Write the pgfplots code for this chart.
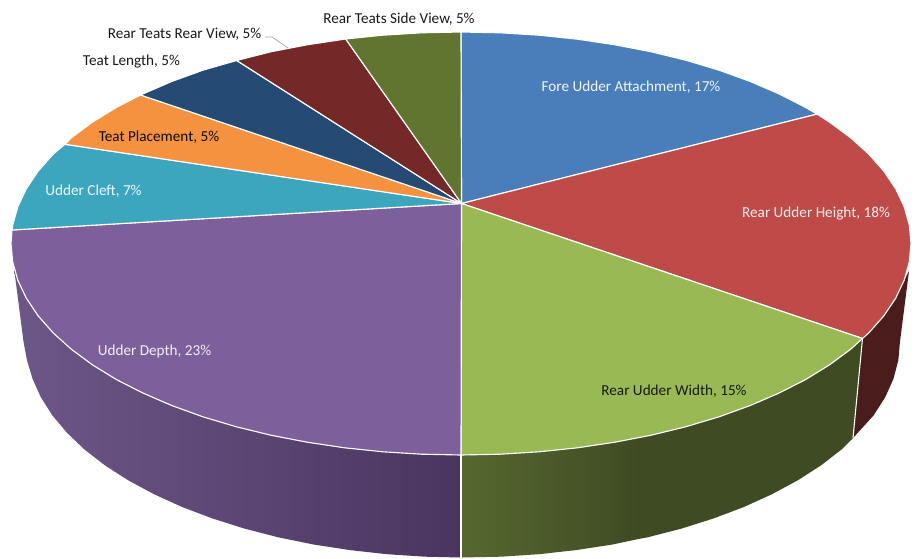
\documentclass[border=0pt]{standalone}
\usepackage{pgfplots}
\pgfplotsset{compat=1.18}
\usepackage{fontspec}
\setmainfont{Carlito}
\definecolor{cblue}{HTML}{4A7EBB}
\definecolor{cred}{HTML}{BE4B48}
\definecolor{cgreen}{HTML}{98B954}
\definecolor{cpurple}{HTML}{7D5F9C}
\definecolor{cteal}{HTML}{3CA6BF}
\definecolor{corange}{HTML}{F59240}
\definecolor{cnavy}{HTML}{254A73}
\definecolor{cmaroon}{HTML}{742828}
\definecolor{colive}{HTML}{5F7530}
\definecolor{sideA}{HTML}{6D5789}
\definecolor{sideB}{HTML}{4A3560}
\definecolor{sideC}{HTML}{566830}
\definecolor{sideD}{HTML}{3F4B23}
\definecolor{sideE}{HTML}{3F4B23}
\definecolor{sideF}{HTML}{4A1C1C}
\tikzset{
  ptop/.style={draw=white, line width=0.85pt, line join=round},
  lab/.style={font=\fontsize{11.4}{13}\selectfont, inner sep=0pt, anchor=center}
}
\begin{document}
\begin{tikzpicture}
\begin{axis}[
  scale only axis, width=687pt, height=418.5pt,
  xmin=0, xmax=916, ymin=0, ymax=558, y dir=reverse,
  hide axis, clip=false
]
% invisible corners keep the page at the full picture
\addplot[draw=none, forget plot] coordinates {(0,0) (916,558)};
% side walls
\addplot[shade, left color=sideA, right color=sideB, draw=none] coordinates {
 (461,455)(421.8,454.2)(382.9,451.8)(344.5,447.8)(307.1,442.2)(270.8,435.2)(236,426.7)(202.9,416.8)(171.7,405.5)(142.8,393)(116.3,379.5)(92.4,364.8)(71.3,349.2)(53.2,332.9)(38.1,315.8)(26.3,298.2)(17.8,280.2)(14,268)
 (23.5,341.5)(27,360.3)(32.6,379)(40.9,397.4)(52.4,415.4)(67,432.8)(84.5,449.5)(105,465.4)(128.2,480.3)(154,494.2)(182.1,507)(212.3,518.4)(244.5,528.6)(278.3,537.3)(313.5,544.5)(349.9,550.1)(387.1,554.2)(425,556.7)(461,557.5)} -- cycle;
\addplot[shade, left color=sideC, right color=sideD, draw=none] coordinates {
 (461,455)(500.2,454.2)(539.1,451.8)(577.5,447.8)(614.9,442.2)(640,437.5)
 (640,538.7)(612.5,544.5)(576.1,550.1)(538.9,554.2)(501,556.7)(461,557.5)} -- cycle;
\addplot[fill=sideE, draw=none] coordinates {
 (639.5,437.7)(651.2,435.2)(686,426.7)(719.1,416.8)(750.3,405.5)(779.2,393)(805.7,379.5)(829.6,364.8)(850.7,349.2)(862.5,338.5)
 (853,438)(841.5,449.5)(821,465.4)(797.8,480.3)(772,494.2)(743.9,507)(713.7,518.4)(681.5,528.6)(647.7,537.3)(639.5,538.8)} -- cycle;
\addplot[fill=sideF, draw=none] coordinates {
 (862.5,338.5)(868.8,332.9)(883.9,315.8)(895.7,298.2)(904.2,280.2)(909,271)
 (900,341.5)(898.3,360.3)(893.4,379)(885.1,397.4)(873.6,415.4)(853,438)} -- cycle;
\addplot[draw=white, line width=0.8pt] coordinates {(461,455)(461,558)};
\addplot[draw=white, line width=0.8pt] coordinates {(862.5,338.5)(853,438)};
% top face
\addplot[fill=cblue, ptop] coordinates {(461.5,203.5)(461,32)(500.2,32.8)(539.1,35.2)(577.5,39.2)(614.9,44.8)(651.2,51.8)(686,60.3)(719.1,70.2)(750.3,81.5)(779.2,94)(805.7,107.5)(817,114.1)} -- cycle;
\addplot[fill=cred, ptop] coordinates {(461.5,203.5)(817,114.1)(829.6,122.2)(850.7,137.8)(868.8,154.1)(883.9,171.2)(895.7,188.8)(904.2,206.8)(909.3,225.1)(911,243.5)(909.3,261.9)(904.2,280.2)(895.7,298.2)(883.9,315.8)(868.8,332.9)(862.5,338.5)} -- cycle;
\addplot[fill=cgreen, ptop] coordinates {(461.5,203.5)(862.5,338.5)(850.7,349.2)(829.6,364.8)(805.7,379.5)(779.2,393)(750.3,405.5)(719.1,416.8)(686,426.7)(651.2,435.2)(614.9,442.2)(577.5,447.8)(539.1,451.8)(500.2,454.2)(461,455)} -- cycle;
\addplot[fill=cpurple, ptop] coordinates {(461.5,203.5)(461,455)(421.8,454.2)(382.9,451.8)(344.5,447.8)(307.1,442.2)(270.8,435.2)(236,426.7)(202.9,416.8)(171.7,405.5)(142.8,393)(116.3,379.5)(92.4,364.8)(71.3,349.2)(53.2,332.9)(38.1,315.8)(26.3,298.2)(17.8,280.2)(12.7,261.9)(11,243.5)(12,230)} -- cycle;
\addplot[fill=cteal, ptop] coordinates {(461.5,203.5)(12,230)(12.7,225.1)(17.8,206.8)(26.3,188.8)(38.1,171.2)(53.2,154.1)(65,144.3)} -- cycle;
\addplot[fill=corange, ptop] coordinates {(461.5,203.5)(65,144.3)(71.3,137.8)(92.4,122.2)(116.3,107.5)(140.5,95)} -- cycle;
\addplot[fill=cnavy, ptop] coordinates {(461.5,203.5)(140.5,95)(171.7,81.5)(202.9,70.2)(236.7,60.5)} -- cycle;
\addplot[fill=cmaroon, ptop] coordinates {(461.5,203.5)(236.7,60.5)(270.8,51.8)(307.1,44.8)(345.7,39)} -- cycle;
\addplot[fill=colive, ptop] coordinates {(461.5,203.5)(345.7,39)(382.9,35.2)(421.8,32.8)(461,32)} -- cycle;
% leader line
\addplot[draw=gray!70, line width=0.5pt] coordinates {(265,37)(272,37)(288,48)};
% labels
\node[lab, text=black!90] at (axis cs:399,19.5) {Rear Teats Side View, 5\%};
\node[lab, text=black!90] at (axis cs:184.5,34.5) {Rear Teats Rear View, 5\%};
\node[lab, text=black!90] at (axis cs:131.5,61.5) {Teat Length, 5\%};
\node[lab, text=black!95] at (axis cs:159,137.5) {Teat Placement, 5\%};
\node[lab, text=white!92!cteal] at (axis cs:93.5,191.5) {Udder Cleft, 7\%};
\node[lab, text=white!90!cpurple] at (axis cs:154.5,351.5) {Udder Depth, 23\%};
\node[lab, text=white!92!cblue] at (axis cs:631,87.5) {Fore Udder Attachment, 17\%};
\node[lab, text=white!92!cred] at (axis cs:816,213.5) {Rear Udder Height, 18\%};
\node[lab, text=black!90] at (axis cs:674,391.5) {Rear Udder Width, 15\%};
\end{axis}
\end{tikzpicture}
\end{document}
